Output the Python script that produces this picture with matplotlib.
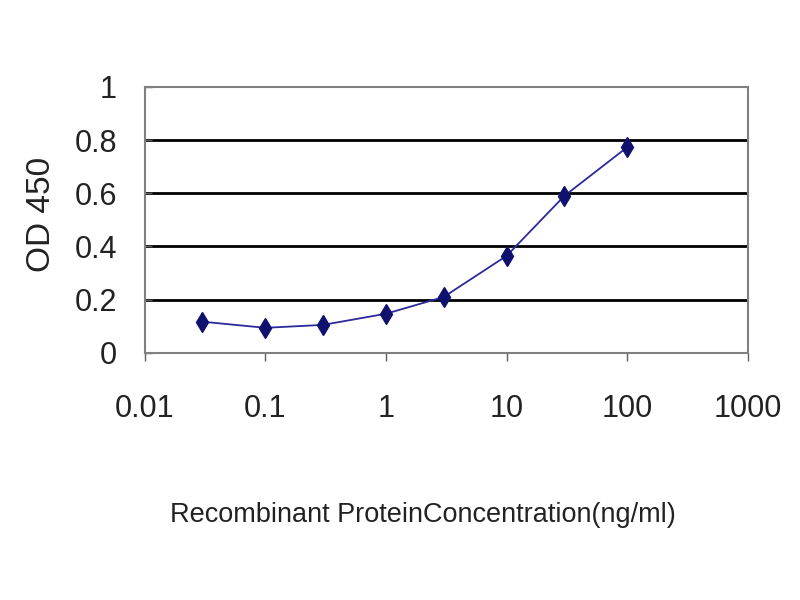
import matplotlib
matplotlib.use("Agg")
import matplotlib.pyplot as plt
from matplotlib.ticker import FixedLocator, NullLocator

# concentrations (ng/ml) and OD readings
conc = [0.03, 0.1, 0.3, 1, 3, 10, 30, 100]
od = [0.117, 0.094, 0.105, 0.147, 0.21, 0.365, 0.59, 0.774]

x_ticks = [0.01, 0.1, 1, 10, 100, 1000]
x_labels = ["0.01", "0.1", "1", "10", "100", "1000"]
y_ticks = [0, 0.2, 0.4, 0.6, 0.8, 1]
y_labels = ["0", "0.2", "0.4", "0.6", "0.8", "1"]

plt.rcParams['font.family'] = ['Liberation Sans', 'DejaVu Sans']

fig = plt.figure(figsize=(8, 6), dpi=100)
ax = fig.add_axes([0.181, 0.412, 0.754, 0.443])

ax.plot(conc, od, color="#2a2a9a", linewidth=1.3, marker="d",
        markersize=10, markerfacecolor="#10106e", markeredgecolor="#10106e")

ax.set_xscale("log")
ax.set_xlim(0.01, 1000)
ax.set_ylim(0, 1)
ax.xaxis.set_major_locator(FixedLocator(x_ticks))
ax.xaxis.set_minor_locator(NullLocator())
ax.set_xticklabels(x_labels)
ax.set_yticks(y_ticks)
ax.set_yticklabels(y_labels)

for y in y_ticks[1:-1]:
    ax.axhline(y, color="black", linewidth=2, zorder=1)

for s in ax.spines.values():
    s.set_color("#808080")
    s.set_linewidth(1.5)

ax.tick_params(axis="x", direction="out", length=6, width=1, color="#606060",
               pad=24, labelsize=22, labelcolor="#222222")
ax.tick_params(axis="y", direction="in", length=5, width=1, color="#606060",
               pad=20, labelsize=22, labelcolor="#222222")

ax.set_ylabel("OD 450", fontsize=24, color="#222222")
ax.yaxis.set_label_coords(-0.146, 0.52)
fig.text(0.528, 0.142, "Recombinant ProteinConcentration(ng/ml)",
         ha="center", va="center", fontsize=19.5, color="#222222")

fig.savefig("out.png", dpi=100)
